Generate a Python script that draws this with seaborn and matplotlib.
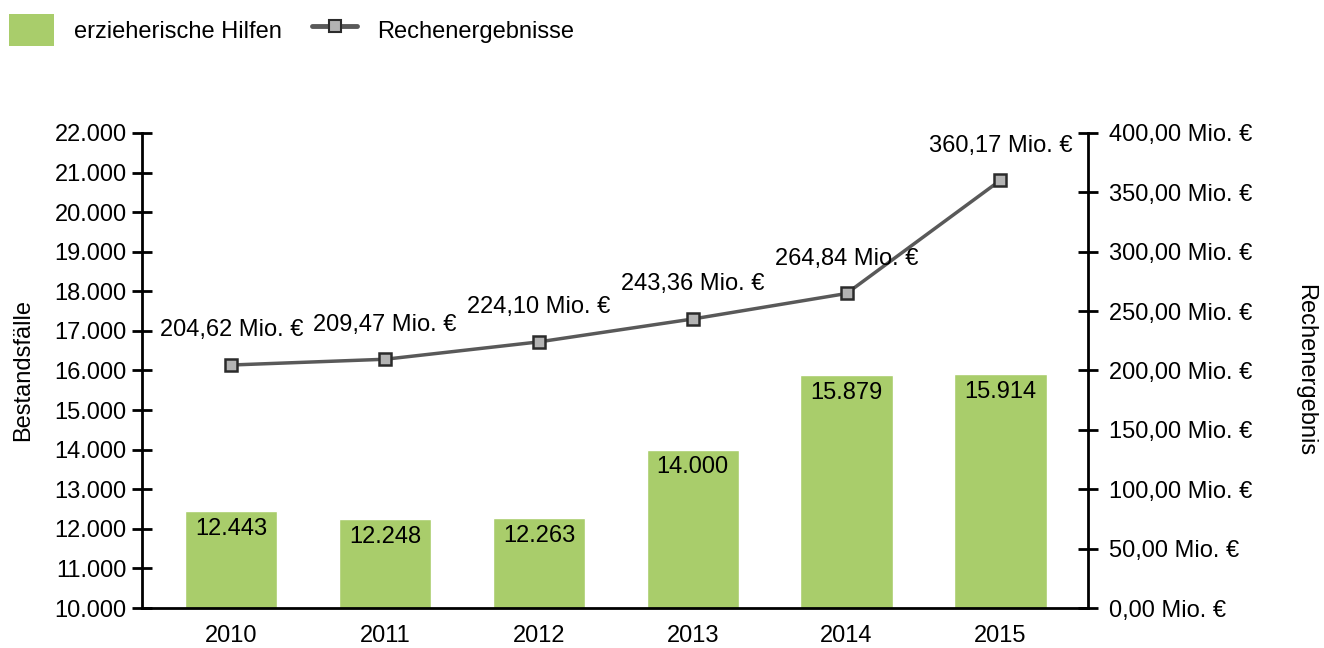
import numpy as np
import pandas as pd
import matplotlib
matplotlib.use("Agg")
import matplotlib.pyplot as plt
import seaborn as sns
from matplotlib.patches import Patch
from matplotlib.lines import Line2D

years = ["2010", "2011", "2012", "2013", "2014", "2015"]
faelle = [12443, 12248, 12263, 14000, 15879, 15914]
ergebnis = [204.62, 209.47, 224.10, 243.36, 264.84, 360.17]
left_ticks = list(range(10000, 22001, 1000))
right_ticks = list(range(0, 401, 50))

green = "#a9cd6b"
grey_line = "#595959"

sns.set_style("white")
plt.rcParams["font.family"] = ["Liberation Sans", "DejaVu Sans"]
plt.rcParams["text.color"] = "black"
plt.rcParams["axes.labelcolor"] = "black"
plt.rcParams["xtick.color"] = "black"
plt.rcParams["ytick.color"] = "black"
fs = 17

df = pd.DataFrame({"Jahr": years, "Faelle": faelle, "Ergebnis": ergebnis})

fig = plt.figure(figsize=(13.24, 6.48), dpi=100)
ax = fig.add_axes([0.1073, 0.0617, 0.7145, 0.7331])

# bars (left axis)
sns.barplot(data=df, x="Jahr", y="Faelle", color=green, width=0.6,
            saturation=1, ax=ax, bottom=0)
ax.set_ylim(10000, 22000)
ax.set_xlim(-0.58, 5.57)
ax.set_yticks(left_ticks)
ax.set_yticklabels([f"{v:,}".replace(",", ".") for v in left_ticks], fontsize=fs)
ax.set_xlabel("")
ax.set_ylabel("Bestandsfälle", fontsize=fs, labelpad=15)
ax.tick_params(axis="x", length=0, labelsize=fs, pad=12)
ax.tick_params(axis="y", direction="inout", length=14, width=2, pad=4)
for s in ["top", "right"]:
    ax.spines[s].set_visible(False)
for s in ["left", "bottom"]:
    ax.spines[s].set_linewidth(2)
    ax.spines[s].set_color("black")

for p, v in zip(ax.patches, faelle):
    ax.text(p.get_x() + p.get_width() / 2, v - 170, f"{v:,}".replace(",", "."),
            ha="center", va="top", fontsize=fs)

# line (right axis)
ax2 = ax.twinx()
sns.lineplot(x=np.arange(len(years)), y=ergebnis, ax=ax2, color=grey_line,
             linewidth=2.5, marker="s", markersize=9, markerfacecolor="#b3b3b3",
             markeredgecolor="#2b2b2b", markeredgewidth=1.8)
ax2.set_ylim(0, 400)
ax2.set_yticks(right_ticks)
ax2.set_yticklabels([f"{v:.2f}".replace(".", ",") + " Mio. €" for v in right_ticks],
                    fontsize=fs)
ax2.set_ylabel("Rechenergebnis", fontsize=fs, rotation=270, labelpad=46)
ax2.tick_params(axis="y", direction="inout", length=14, width=2, pad=8)
for s in ["top", "left", "bottom"]:
    ax2.spines[s].set_visible(False)
ax2.spines["right"].set_linewidth(2)
ax2.spines["right"].set_color("black")

for i, v in enumerate(ergebnis):
    ax2.annotate(f"{v:.2f}".replace(".", ",") + " Mio. €", (i, v),
                 xytext=(0, 25), textcoords="offset points",
                 ha="center", va="center", fontsize=fs)

handles = [Patch(facecolor=green, edgecolor="none"),
           Line2D([0], [0], color=grey_line, linewidth=3.5, marker="s",
                  markersize=8, markerfacecolor="#b3b3b3",
                  markeredgecolor="#2b2b2b", markeredgewidth=1.5)]
fig.legend(handles, ["erzieherische Hilfen", "Rechenergebnisse"],
           loc="upper left", bbox_to_anchor=(-0.004, 1.0), ncol=2, frameon=False,
           fontsize=fs, handlelength=1.9, handleheight=1.7,
           handletextpad=0.85, columnspacing=1.3, borderaxespad=0.2)

fig.savefig("out.png", dpi=100)
